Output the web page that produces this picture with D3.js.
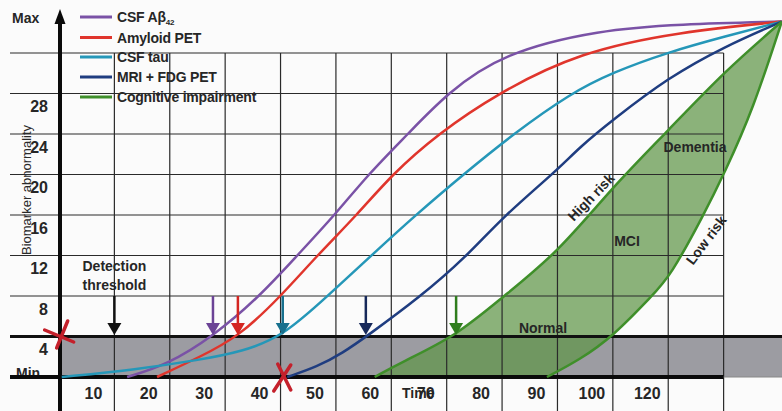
<!DOCTYPE html>
<html><head><meta charset="utf-8">
<script src="https://cdn.jsdelivr.net/npm/d3@7"></script>
<style>
html,body{margin:0;padding:0;background:#fbfbfb;}
svg{display:block;font-family:"Liberation Sans",Arial,sans-serif;}
</style></head><body>
<svg id="c" width="782" height="411"></svg>
<script>
// ---------- data ----------
const seriesNames = ["CSF Aβ", "Amyloid PET", "CSF tau", "MRI + FDG PET", "Cognitive impairment"];
const xGridValues = [10, 20, 30, 40, 50, 60, 70, 80, 90, 100, 110, 120];
const yGridValues = [4, 8, 12, 16, 20, 24, 28, 32];
const xTickLabels = ["10", "20", "30", "40", "50", "60", "70", "80", "90", "100", "120"];
const yTickValues = [4, 8, 12, 16, 20, 24, 28];
const yTickLabels = ["4", "8", "12", "16", "20", "24", "28"];

const csfAbeta = [[12.3,0],[19.5,1.2],[27.8,4],[36.3,8],[43,12],[49.8,16],[55.8,20],[63,24],[70,28],[80.1,32],[97.7,34.3],[112,34.85],[130.5,35.1]];
const amyloidPet = [[17.7,0],[25.5,2],[32.5,4],[40.1,8],[46.6,12],[53.8,16],[60.1,20],[68.4,24],[79.1,28],[94,32.1],[112.1,34.1],[130.5,35.1]];
const csfTau = [[0.5,0],[13.4,0.7],[25.5,1.7],[33,2.5],[40.4,4],[48.5,8],[56.8,12.2],[64.4,16],[73,20],[82,24],[92.3,28],[100,30.1],[110.1,32.1],[120,33.6],[130.5,35.1]];
const mriFdg = [[41.2,0],[46.6,1],[51.3,2.4],[55.5,4],[65.2,7.9],[73.6,11.9],[80.1,15.8],[89.9,20.4],[94,22.7],[100,25.4],[110.1,29.6],[120,32.6],[130.5,35.1]];
const cogHighRisk = [[57,0],[61.6,1.4],[71.6,4],[80.1,7.9],[90.1,12.3],[100,18.8],[110.1,24.4],[120,30.1],[130.5,35.1]];
const cogLowRisk = [[88.1,0],[94,1.7],[100,4],[107.2,8.1],[110.3,9.9],[116.2,15.8],[120.2,20.2],[125.3,26.4],[130.5,35.1]];
const thresholdCross = [10, 27.8, 32.3, 40.4, 55.4, 71.7]; // detection, then per series

// ---------- styles ----------
const lineColors = ["#7a52a6", "#e0352c", "#2597b8", "#1f3d80", "#3f8f2a"];
const arrowColors = ["#111111", "#6b4396", "#d42521", "#17708e", "#17295a", "#2f7d1d"];
const textCol = "#262626";

const svg = d3.select("#c");
const x = d3.scaleLinear().domain([0, 130]).range([59, 779]);
const y = d3.scaleLinear().domain([0, 32]).range([377, 53]);
const W = 782, H = 411;

svg.append("rect").attr("width", W).attr("height", H).attr("fill", "#fbfbfb");

// gray band below detection threshold
svg.append("rect").attr("x", x(0)).attr("y", y(4)).attr("width", W - x(0)).attr("height", y(0) - y(4)).attr("fill", "#9c9ca2");

// legend
const leg = svg.append("g");
const legY = [17, 37.5, 57, 77, 97];
seriesNames.forEach((n, i) => {
  leg.append("line").attr("x1", 80).attr("x2", 112).attr("y1", legY[i]).attr("y2", legY[i])
    .attr("stroke", lineColors[i]).attr("stroke-width", 3);
  const t = leg.append("text").attr("x", 117).attr("y", legY[i]).attr("dy", "0.36em")
    .attr("font-size", 14).attr("font-weight", "bold").attr("fill", textCol).attr("letter-spacing", -0.2).text(n);
  if (i === 0) t.append("tspan").attr("font-size", 8).attr("dy", 3).text("42");
});

// y tick labels (below axis lines)
svg.append("g").selectAll("text").data(yTickValues).join("text")
  .attr("x", 48).attr("y", d => y(d) + 13).attr("dy", "0.36em").attr("text-anchor", "end")
  .attr("font-size", 16).attr("font-weight", "bold").attr("fill", textCol)
  .text((d, i) => yTickLabels[i]);
svg.append("text").attr("x", 16).attr("y", 373).attr("dy", "0.36em").attr("font-size", 14)
  .attr("font-weight", "bold").attr("fill", textCol).text("Min");
svg.append("text").attr("x", 12).attr("y", 18).attr("dy", "0.36em").attr("font-size", 14)
  .attr("font-weight", "bold").attr("fill", textCol).text("Max");

// y title
svg.append("text").attr("transform", "translate(31,190) rotate(-90)").attr("text-anchor", "middle")
  .attr("font-size", 13).attr("fill", "#2a2a2a").text("Biomarker abnormality");

// cognitive impairment area
const line = d3.line().x(d => x(d[0])).y(d => y(d[1])).curve(d3.curveBasis);
const pHigh = line(cogHighRisk);
const pLow = line(cogLowRisk.slice().reverse());
svg.append("path").attr("d", pHigh + "L" + pLow.slice(1) + "Z")
  .attr("fill", "#5f9548").attr("fill-opacity", 0.72);

// grid
const grid = svg.append("g").attr("stroke", "#2a2a2a").attr("stroke-width", 1.2);
grid.selectAll(".v").data(xGridValues).join("line").attr("class", "v")
  .attr("x1", d => x(d)).attr("x2", d => x(d)).attr("y1", y(32)).attr("y2", H);
grid.selectAll(".h").data(yGridValues.filter(v => v > 4)).join("line").attr("class", "h")
  .attr("x1", 10).attr("x2", x(120)).attr("y1", d => y(d)).attr("y2", d => y(d));

// threshold line & min line
svg.append("line").attr("x1", 10).attr("x2", W).attr("y1", y(4)).attr("y2", y(4)).attr("stroke", "#111").attr("stroke-width", 3);
svg.append("line").attr("x1", 10).attr("x2", x(120)).attr("y1", y(0)).attr("y2", y(0)).attr("stroke", "#0a0a0a").attr("stroke-width", 4);
svg.append("line").attr("x1", x(120)).attr("x2", W).attr("y1", y(0)).attr("y2", y(0)).attr("stroke", "#888").attr("stroke-width", 1.2);

// y axis
svg.append("line").attr("x1", 60).attr("x2", 60).attr("y1", 20).attr("y2", H).attr("stroke", "#0a0a0a").attr("stroke-width", 4);
svg.append("path").attr("d", "M60,9 L54.5,24 L65.5,24 Z").attr("fill", "#0a0a0a");

// x tick labels
svg.append("text").attr("x", 402).attr("y", 393).attr("dy", "0.36em").attr("font-size", 14)
  .attr("font-weight", "bold").attr("fill", textCol).text("Time");
svg.append("g").selectAll("text").data(xTickLabels).join("text")
  .attr("x", (d, i) => x(10 * (i + 1)) - 21).attr("y", 393).attr("dy", "0.36em").attr("text-anchor", "middle")
  .attr("font-size", 16).attr("font-weight", "bold").attr("fill", textCol).text(d => d);

// biomarker curves
[csfAbeta, amyloidPet, csfTau, mriFdg].forEach((s, i) => {
  svg.append("path").attr("d", line(s)).attr("fill", "none").attr("stroke", lineColors[i]).attr("stroke-width", 2.5);
});
[cogHighRisk, cogLowRisk].forEach(s => {
  svg.append("path").attr("d", line(s)).attr("fill", "none").attr("stroke", lineColors[4]).attr("stroke-width", 2.5);
});

// arrows
thresholdCross.forEach((v, i) => {
  const ax = x(v), top = y(8), tip = y(4) - 1.5;
  svg.append("line").attr("x1", ax).attr("x2", ax).attr("y1", top).attr("y2", tip - 8)
    .attr("stroke", arrowColors[i]).attr("stroke-width", 2.5);
  svg.append("path").attr("d", `M${ax},${tip} L${ax - 7},${tip - 12} L${ax + 7},${tip - 12} Z`).attr("fill", arrowColors[i]);
});

// red X marks
const g1 = svg.append("g").attr("stroke", "#c4202b").attr("stroke-width", 3.5).attr("stroke-linecap", "round");
const c1x = x(0.3), c1y = y(4.05);
g1.append("line").attr("x1", c1x + 7).attr("y1", c1y - 15).attr("x2", c1x - 4).attr("y2", c1y + 12);
g1.append("line").attr("x1", c1x - 16).attr("y1", c1y - 6).attr("x2", c1x + 13).attr("y2", c1y + 6);
const g2 = svg.append("g").attr("stroke", "#c4202b").attr("stroke-width", 3.5).attr("stroke-linecap", "round");
const c2x = x(40.4), c2y = y(0);
g2.append("line").attr("x1", c2x - 5).attr("y1", c2y - 13).attr("x2", c2x + 8).attr("y2", c2y + 13);
g2.append("line").attr("x1", c2x + 8).attr("y1", c2y - 12).attr("x2", c2x - 9).attr("y2", c2y + 14);

// annotations
function label(txt, px, py, rot) {
  svg.append("text").attr("transform", `translate(${px},${py}) rotate(${rot || 0})`).attr("text-anchor", "middle")
    .attr("dy", "0.36em").attr("font-size", 14).attr("font-weight", "bold").attr("fill", textCol).text(txt);
}
label("Detection", x(10), 266, 0);
label("threshold", x(10), 285, 0);
label("Normal", 543, 328, 0);
label("MCI", 627, 241, 0);
label("Dementia", 695, 147, 0);
label("High risk", 591, 197, -46);
label("Low risk", 706, 240, -53);
</script>
</body></html>
